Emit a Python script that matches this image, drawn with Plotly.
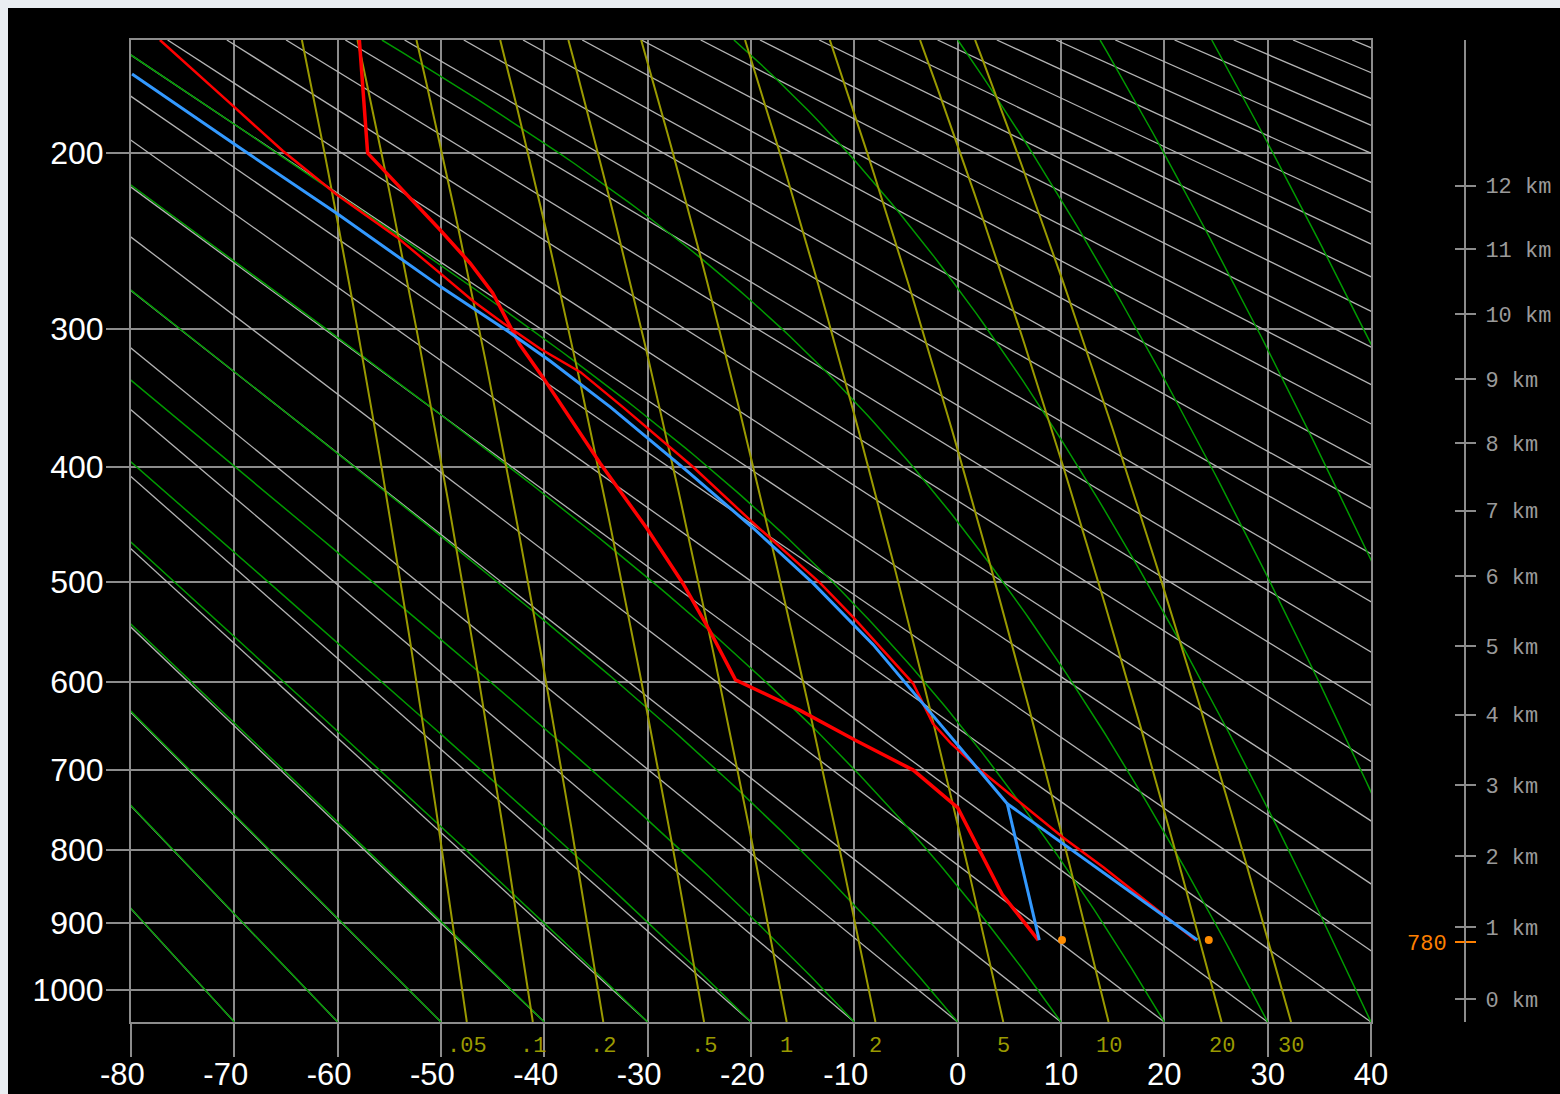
import numpy as np
import plotly.graph_objects as go

KAPPA = 0.286
P_BOTTOM, P_TOP = 1050, 150

# ---- sounding data (pressure hPa, temperature degC) ----
ENV_P = [925, 860, 746, 700, 665, 631, 598, 547, 501, 451, 397, 354, 333, 310, 277, 259, 240, 212, 200, 150]
ENV_T = [7.8, 4.3, 0.0, -4.3, -9.9, -15.3, -21.5, -24.0, -26.6, -30.1, -34.6, -38.2, -40.1, -42.4, -45.0, -47.2, -50.1, -54.9, -57.1, -57.9]

PARCEL_P = [925, 823, 784, 750, 716, 697, 668, 646, 602, 534, 501, 462, 444, 400, 369, 354, 329, 313, 296, 282,
            265, 244, 221, 199, 178, 165, 150]
PARCEL_T = [23.0, 14.1, 10.2, 7.0, 3.8, 1.9, -0.7, -2.4, -4.3, -10.1, -13.3, -17.9, -20.1, -25.6, -30.1, -32.4,
            -36.5, -40.4, -44.0, -46.9, -50.1, -54.3, -60.1, -65.3, -70.1, -73.3, -77.2]

# blue: surface dew point -> LCL (mixing ratio), surface temp -> LCL (dry), LCL -> moist ascent
BLUE_DEW_P = [925, 741]
BLUE_DEW_T = [7.9, 4.8]
BLUE_DRY_P = [925, 741]
BLUE_DRY_T = [23.2, 4.8]
BLUE_MOIST_P = [741, 628, 561, 501, 451, 403, 377, 354, 321, 301, 273, 231, 196, 164]
BLUE_MOIST_T = [4.8, -3.0, -8.2, -14.0, -19.8, -26.2, -30.0, -33.6, -39.5, -43.6, -50.1, -60.1, -69.9, -79.9]

SURF_DOT_P = [925, 925]
SURF_DOT_T = [10.1, 24.3]

PRESSURE_TICKS = [200, 300, 400, 500, 600, 700, 800, 900, 1000]
TEMP_TICKS = [-80, -70, -60, -50, -40, -30, -20, -10, 0, 10, 20, 30, 40]

KM_LABELS = [0, 1, 2, 3, 4, 5, 6, 7, 8, 9, 10, 11, 12]
KM_PRESSURE = [1014.5, 906.3, 808.6, 718.4, 636.0, 562.7, 494.5, 436.0, 381.2, 333.7, 290.2, 251.0, 216.4]
STATION_ELEV = 780
STATION_ELEV_P = 928.4

# background isopleths (labelled by temperature at the 1050 hPa bottom edge)
DRY_BASE_T = [-70, -60, -50, -40, -30, -20, -10, 0, 10, 20, 30, 40, 50, 60, 70, 80, 90, 100, 110, 120, 130, 140,
              150, 160, 170, 180, 190, 200, 210, 220, 230, 240, 250, 260, 270]
MOIST_BASE_T = [-70, -60, -50, -40, -30, -20, -10, 0, 10, 20, 30, 40, 50, 60, 70]
MIXING_RATIOS = [0.05, 0.1, 0.2, 0.5, 1, 2, 5, 10, 20, 30]
MIXING_LABELS = [".05", ".1", ".2", ".5", "1", "2", "5", "10", "20", "30"]


def py(p):
    return np.asarray(p, dtype=float) ** KAPPA


# ---- isopleth construction ----
def dry_line(tb):
    p = np.array([P_BOTTOM, P_TOP], dtype=float)
    t = (tb + 273.15) * (p / P_BOTTOM) ** KAPPA - 273.15
    return p, t


def dtdp(p, T):
    Rd, cp, eps = 287.04, 1005.7, 0.622
    Lv = 2.501e6 - 2370.0 * (T - 273.15)
    es = 6.112 * np.exp(17.67 * (T - 273.15) / (T - 29.65))
    rs = eps * es / p
    num = Rd * T + Lv * rs
    den = cp + Lv * Lv * rs * eps / (Rd * T * T)
    return num / (den * p)


def moist_line(tb):
    ps = np.arange(P_BOTTOM, P_TOP - 1, -5.0)
    T = tb + 273.15
    out = [T]
    for p0, p1 in zip(ps[:-1], ps[1:]):
        h = p1 - p0
        k1 = dtdp(p0, T)
        k2 = dtdp(p0 + h / 2, T + h / 2 * k1)
        k3 = dtdp(p0 + h / 2, T + h / 2 * k2)
        k4 = dtdp(p1, T + h * k3)
        T = T + h / 6 * (k1 + 2 * k2 + 2 * k3 + k4)
        out.append(T)
    return ps, np.array(out) - 273.15


def mixing_line(w):
    ps = np.arange(P_BOTTOM, P_TOP - 1, -10.0)
    e = w * ps / (622.0 + w)
    a = np.log(e / 6.112)
    return ps, 243.5 * a / (17.67 - a)


def join(lines):
    xs, ys = [], []
    for p, t in lines:
        xs += list(t) + [None]
        ys += list(py(p)) + [None]
    return xs, ys


fig = go.Figure()

dx, dy = join([dry_line(t) for t in DRY_BASE_T])
fig.add_trace(go.Scatter(x=dx, y=dy, mode="lines", line=dict(color="#b4b4b4", width=1.3), hoverinfo="skip"))

mx, my = join([moist_line(t) for t in MOIST_BASE_T])
fig.add_trace(go.Scatter(x=mx, y=my, mode="lines", line=dict(color="#009a00", width=1.5), hoverinfo="skip"))

mix_lines = [mixing_line(w) for w in MIXING_RATIOS]
wx, wy = join(mix_lines)
fig.add_trace(go.Scatter(x=wx, y=wy, mode="lines", line=dict(color="#9a9a00", width=2), hoverinfo="skip"))

# sounding
fig.add_trace(go.Scatter(x=ENV_T, y=py(ENV_P), mode="lines", line=dict(color="#ff0000", width=3.5)))
fig.add_trace(go.Scatter(x=PARCEL_T, y=py(PARCEL_P), mode="lines", line=dict(color="#ff0000", width=2.5)))
for bp, bt in [(BLUE_DEW_P, BLUE_DEW_T), (BLUE_DRY_P, BLUE_DRY_T), (BLUE_MOIST_P, BLUE_MOIST_T)]:
    fig.add_trace(go.Scatter(x=bt, y=py(bp), mode="lines", line=dict(color="#3399ff", width=3)))
fig.add_trace(go.Scatter(x=SURF_DOT_T, y=py(SURF_DOT_P), mode="markers",
                         marker=dict(color="#ff8c00", size=8)))

# empty traces to activate the extra height axes
for ax in ["y2", "y3", "y4", "y5"]:
    fig.add_trace(go.Scatter(x=[None], y=[None], yaxis=ax, showlegend=False))

GRID = "#8c8c8c"
W, H = 1560, 1094
L, R, T, B = 131, 0, 40, 72
plot_w = W - L - R
plot_h = H - T - B
x_end = (1371 - L) / plot_w
km_pos = (1465 - L) / plot_w

y_range = [float(py(P_BOTTOM)), float(py(P_TOP))]

common_y = dict(range=y_range, overlaying="y", anchor="free", position=km_pos, showgrid=False,
                zeroline=False, automargin=False)

# negative labels are centred on their digits (minus sign hangs left)
temp_text = [f"{v}\u2007" if v < 0 else str(v) for v in TEMP_TICKS]

fig.update_layout(
    width=W, height=H, autosize=False,
    margin=dict(l=L, r=R, t=T, b=B, pad=0),
    paper_bgcolor="#eaeef2", plot_bgcolor="#000000",
    showlegend=False,
    xaxis=dict(domain=[0, x_end], range=[-80, 40], tickvals=TEMP_TICKS,
               ticktext=temp_text, automargin=False,
               ticks="outside", ticklen=33, tickwidth=2, tickcolor=GRID, ticklabelstandoff=-9,
               showgrid=True, gridcolor=GRID, gridwidth=2,
               showline=True, mirror=True, linecolor=GRID, linewidth=2, zeroline=False,
               tickfont=dict(family="Liberation Sans, Arial", size=31, color="#ffffff")),
    yaxis=dict(range=y_range, tickvals=list(py(PRESSURE_TICKS)),
               ticktext=[str(v) for v in PRESSURE_TICKS], automargin=False,
               ticks="outside", ticklen=23, tickwidth=2, tickcolor=GRID, ticklabelstandoff=-4,
               showgrid=True, gridcolor=GRID, gridwidth=2,
               showline=True, mirror=True, linecolor=GRID, linewidth=2, zeroline=False,
               tickfont=dict(family="Liberation Sans, Arial", size=32, color="#ffffff")),
    yaxis2=dict(common_y, side="right", tickvals=list(py(KM_PRESSURE)),
                ticktext=[f"{k} km" for k in KM_LABELS], ticks="outside", ticklen=10, tickwidth=2,
                tickcolor=GRID, showline=True, linecolor=GRID, linewidth=2, ticklabelstandoff=5,
                tickfont=dict(family="Liberation Mono, Courier New, monospace", size=22, color="#9a9a9a")),
    yaxis3=dict(common_y, side="left", tickvals=list(py(KM_PRESSURE)), ticks="outside", ticklen=10,
                tickwidth=2, tickcolor=GRID, showticklabels=False, showline=False),
    yaxis4=dict(common_y, side="left", tickvals=[float(py(STATION_ELEV_P))], ticktext=[str(STATION_ELEV)],
                ticks="outside", ticklen=10, tickwidth=2, tickcolor="#ff8000", showline=False,
                ticklabelstandoff=4,
                tickfont=dict(family="Liberation Mono, Courier New, monospace", size=22, color="#ff8000")),
    yaxis5=dict(common_y, side="right", tickvals=[float(py(STATION_ELEV_P))], ticks="outside", ticklen=10,
                tickwidth=2, tickcolor="#ff8000", showticklabels=False, showline=False),
)

# black canvas with light frame strip on left and top
fig.add_shape(type="rect", xref="paper", yref="paper", layer="below",
              x0=(8 - L) / plot_w, x1=1.0, y0=(T + plot_h - H) / plot_h, y1=(T + plot_h - 8) / plot_h,
              fillcolor="#000000", line=dict(width=0))

# mixing ratio labels under the bottom axis
label_y = (T + plot_h - 1046) / plot_h
for (p, t), lab in zip(mix_lines, MIXING_LABELS):
    fig.add_annotation(x=float(t[0]), y=label_y, xref="x", yref="paper", text=lab, showarrow=False,
                       xanchor="center", yanchor="middle",
                       font=dict(family="Liberation Mono, Courier New, monospace", size=22, color="#9a9a00"))

fig.write_html("out.html")
